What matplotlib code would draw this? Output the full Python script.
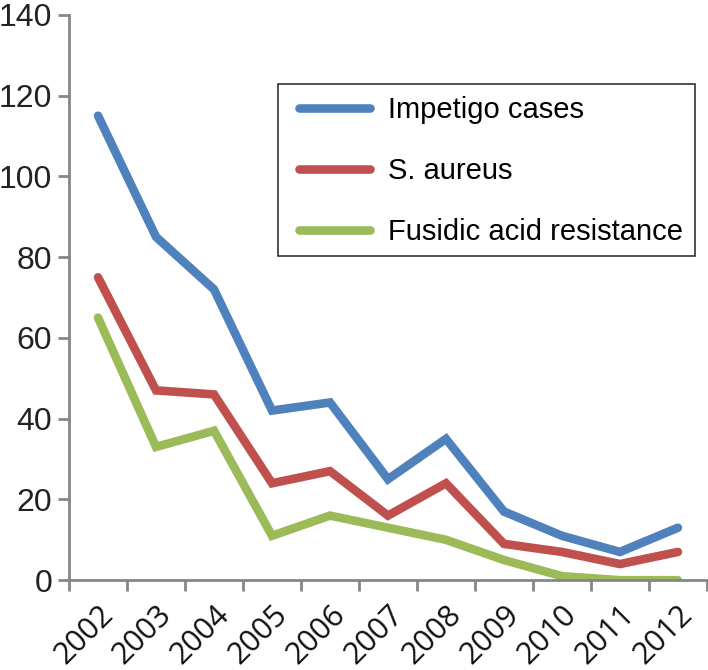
import matplotlib
matplotlib.use("Agg")
import matplotlib.pyplot as plt
from matplotlib.patches import Rectangle
import numpy as np

years = ["2002", "2003", "2004", "2005", "2006", "2007", "2008", "2009", "2010", "2011", "2012"]
impetigo = [115, 85, 72, 42, 44, 25, 35, 17, 11, 7, 13]
saureus = [75, 47, 46, 24, 27, 16, 24, 9, 7, 4, 7]
fusidic = [65, 33, 37, 11, 16, 13, 10, 5, 1, 0, 0]
series_names = ["Impetigo cases", "S. aureus", "Fusidic acid resistance"]
colors = ["#4F81BD", "#C0504D", "#9BBB59"]

fig = plt.figure(figsize=(7.08, 6.70), dpi=100)
ax = fig.add_axes([0.0975, 0.134, 0.901, 0.844])

x = np.arange(len(years))
for vals, name, c in zip([impetigo, saureus, fusidic], series_names, colors):
    ax.plot(x, vals, color=c, lw=6.2, label=name, solid_capstyle="round", solid_joinstyle="miter")

ax.set_xlim(-0.5, len(years) - 0.5)
ax.set_ylim(0, 140)
ax.set_yticks(np.arange(0, 141, 20))
ax.set_yticklabels([str(v) for v in range(0, 141, 20)], family="Liberation Sans", fontsize=23, color="#222222")

ax.set_xticks(np.arange(-0.5, len(years), 1.0))
ax.set_xticklabels([])
ax.set_xticks(x, minor=True)
ax.set_xticklabels(years, minor=True, rotation=45, ha="right", rotation_mode="anchor",
                   family="Open Sans", fontsize=22, color="#111111")
ax.tick_params(axis="x", which="minor", length=0, pad=14)
ax.tick_params(axis="x", which="major", length=8, width=2, color="#868686", direction="out")
ax.tick_params(axis="y", length=8, width=2, color="#868686", direction="out", pad=4)

for s in ["top", "right"]:
    ax.spines[s].set_visible(False)
for s in ["left", "bottom"]:
    ax.spines[s].set_color("#868686")
    ax.spines[s].set_linewidth(2)

leg = ax.legend(loc="upper left", bbox_to_anchor=(0.342, 0.877), frameon=False,
                prop={"family": "Liberation Sans", "size": 21}, handlelength=2.45, handletextpad=0.6,
                labelspacing=1.13, borderpad=0.4, borderaxespad=0)
for h in leg.get_lines():
    h.set_linewidth(6.2)
    h.set_solid_capstyle("round")

frame = Rectangle((278 / 708, 1 - 256 / 670), (695 - 278) / 708, 172 / 670,
                  transform=fig.transFigure, fill=False, edgecolor="#333333", linewidth=1.2, zorder=5)
fig.patches.append(frame)

fig.savefig("out.png", dpi=100)
